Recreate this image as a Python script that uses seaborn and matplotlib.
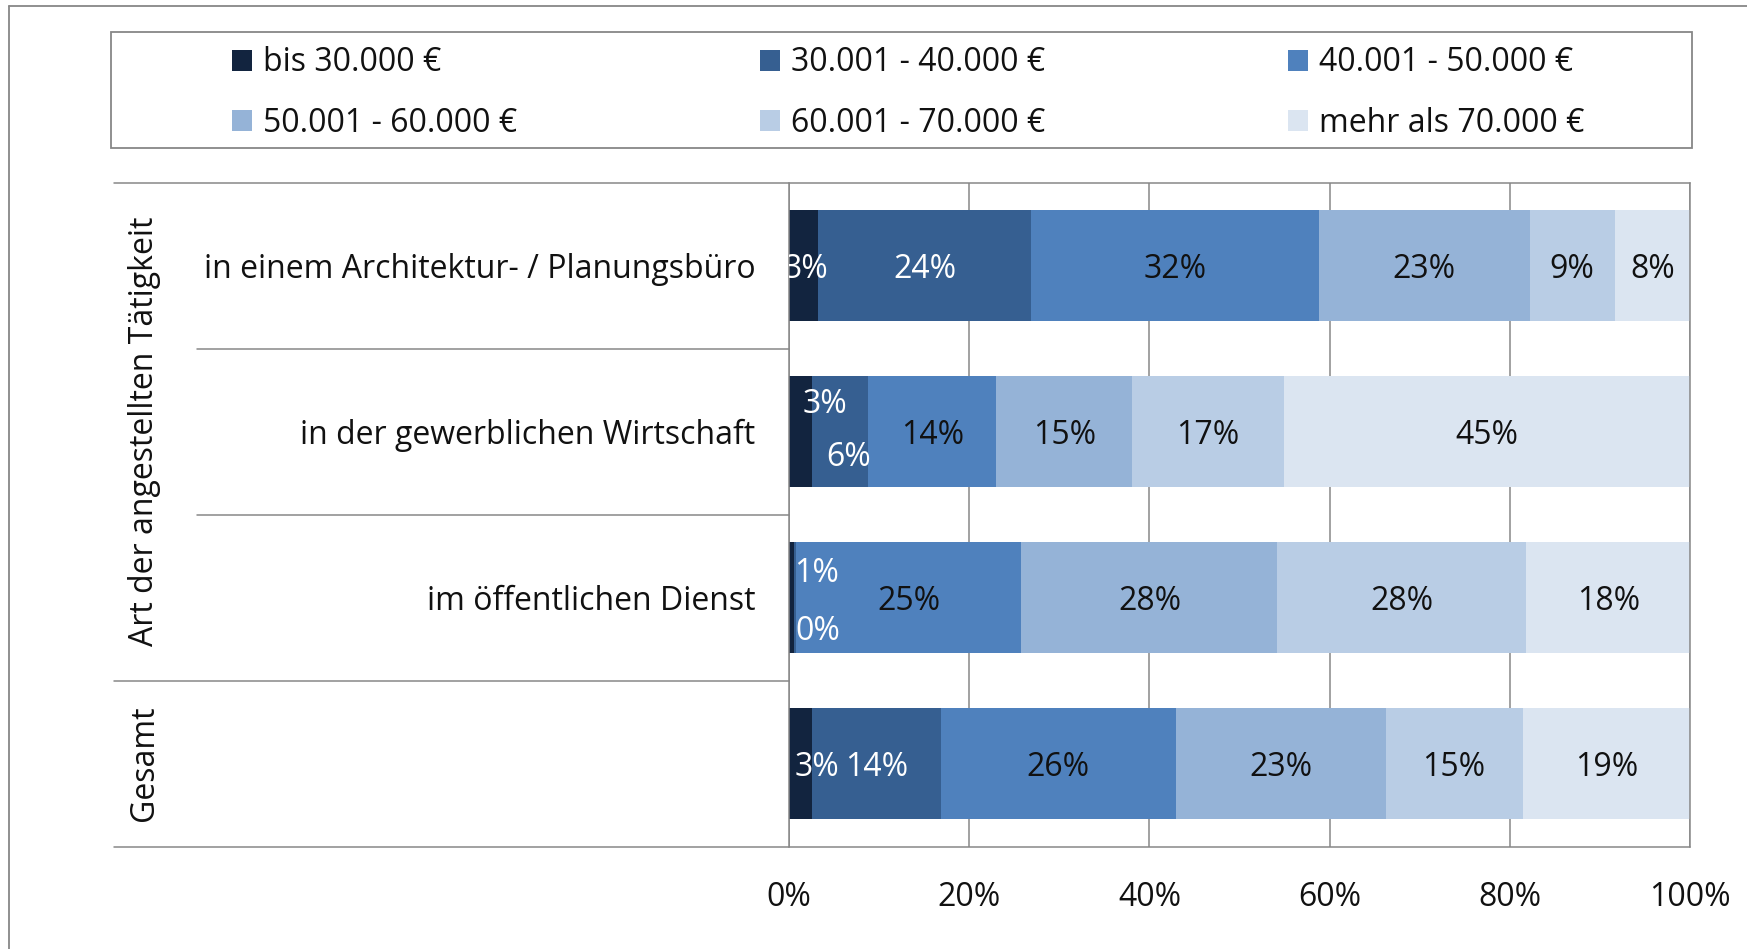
import matplotlib
matplotlib.use("Agg")
import matplotlib.pyplot as plt
import seaborn as sns
import numpy as np
import pandas as pd
from matplotlib.patches import Patch, Rectangle
from matplotlib.lines import Line2D

# data
categories = ["in einem Architektur- / Planungsbüro",
              "in der gewerblichen Wirtschaft",
              "im öffentlichen Dienst",
              "Gesamt"]
tick_labels = ["in einem Architektur- / Planungsbüro",
               "in der gewerblichen Wirtschaft",
               "im öffentlichen Dienst",
               ""]
series = ["bis 30.000 €", "30.001 - 40.000 €", "40.001 - 50.000 €",
          "50.001 - 60.000 €", "60.001 - 70.000 €", "mehr als 70.000 €"]
bis_30 = [3.2, 2.6, 0.6, 2.6]
s30_40 = [23.7, 6.2, 0.2, 14.3]
s40_50 = [31.9, 14.2, 25.0, 26.0]
s50_60 = [23.4, 15.1, 28.4, 23.3]
s60_70 = [9.4, 16.8, 27.6, 15.2]
mehr_70 = [8.4, 45.1, 18.2, 18.6]
x_ticks = [0, 20, 40, 60, 80, 100]
group_labels = ["Art der angestellten Tätigkeit", "Gesamt"]

colors = ["#12243F", "#365F91", "#4F81BD", "#95B3D7", "#B9CDE5", "#DBE5F1"]
text_colors = ["white", "white", "#111111", "#111111", "#111111", "#111111"]

values = np.array([bis_30, s30_40, s40_50, s50_60, s60_70, mehr_70])
cum = values.cumsum(axis=0)
df = pd.DataFrame({"Kategorie": categories})
for i, s in enumerate(series):
    df[s] = cum[i]

# label nudges for the tiny segments (row, series) -> (dx, dy)
nudges = {(0, 0): (0.3, 0), (1, 0): (2.7, -0.19), (1, 1): (0.9, 0.13),
          (2, 0): (2.8, -0.17), (2, 1): (2.5, 0.18), (3, 0): (1.8, 0)}

sns.set_style("white")
plt.rcParams["font.family"] = ["Open Sans", "DejaVu Sans"]
plt.rcParams["text.color"] = "#111111"
fs = 23
grey = "#878787"

fig = plt.figure(figsize=(17.47, 9.49), dpi=100)
ax = fig.add_axes([0.4516, 0.108, 0.5159, 0.6995])

# stacked bars: draw cumulative totals from last to first
for i in range(len(series) - 1, -1, -1):
    sns.barplot(data=df, x=series[i], y="Kategorie", color=colors[i],
                width=0.665, saturation=1, ax=ax, orient="h",
                linewidth=0, label=series[i])

ax.set_xlim(0, 100)
ax.set_ylim(3.5, -0.5)
ax.set_xticks(x_ticks)
ax.set_xticklabels([f"{t}%" for t in x_ticks], fontsize=fs, color="#111111")
ax.set_yticks(range(len(categories)))
ax.set_yticklabels(tick_labels, fontsize=fs, color="#111111")
ax.tick_params(axis="x", length=0, pad=25)
ax.tick_params(axis="y", length=0, pad=24)
ax.set_xlabel("")
ax.set_ylabel("")
ax.xaxis.grid(True, color=grey, linewidth=1.1)
ax.set_axisbelow(True)
for side in ["top", "bottom"]:
    ax.spines[side].set_visible(False)
for side in ["left", "right"]:
    ax.spines[side].set_color(grey)
    ax.spines[side].set_linewidth(1.1)

# data labels
for r in range(len(categories)):
    for i in range(len(series)):
        v = values[i, r]
        xc = cum[i, r] - v / 2
        dx, dy = nudges.get((r, i), (0, 0))
        ax.text(xc + dx, r + dy + 0.025, f"{v:.0f}%", ha="center", va="center",
                fontsize=fs, color=text_colors[i], clip_on=True)

# multi-level category axis lines
ytr = ax.get_yaxis_transform()
outer_x = -0.7494
inner_x = -0.6565
for y, x0 in [(-0.5, outer_x), (3.5, outer_x), (2.5, outer_x),
              (0.5, inner_x), (1.5, inner_x)]:
    ax.plot([x0, 1 if y in (-0.5, 3.5) else 0], [y, y], color=grey,
            linewidth=1.1, transform=ytr, clip_on=False)

ax.text(-0.7145, 1, group_labels[0], rotation=90, ha="center", va="center",
        fontsize=fs, transform=ytr)
ax.text(-0.7145, 3, group_labels[1], rotation=90, ha="center", va="center",
        fontsize=fs, transform=ytr)

# legend
if ax.get_legend() is not None:
    ax.get_legend().remove()
handles = [Patch(facecolor=c, edgecolor="none") for c in colors]
order = [0, 3, 1, 4, 2, 5]
fig.legend([handles[k] for k in order], [series[k] for k in order],
           ncol=3, mode="expand", loc="center",
           bbox_to_anchor=(0.1238, 0.852, 0.7921, 0.1),
           frameon=False, fontsize=fs, borderpad=0,
           handlelength=0.62, handleheight=0.62, handletextpad=0.35,
           labelspacing=0.85)
fig.add_artist(Rectangle((0.0638, 0.844), 0.9049, 0.122,
                         transform=fig.transFigure, fill=False,
                         edgecolor=grey, linewidth=1.3))

# outer chart frame (cut off at the right and bottom)
fig.add_artist(Line2D([0.0051, 0.0051], [0, 0.994], color=grey,
                      linewidth=1.3, transform=fig.transFigure))
fig.add_artist(Line2D([0.0051, 1], [0.994, 0.994], color=grey,
                      linewidth=1.3, transform=fig.transFigure))

fig.savefig("out.png", dpi=100)
